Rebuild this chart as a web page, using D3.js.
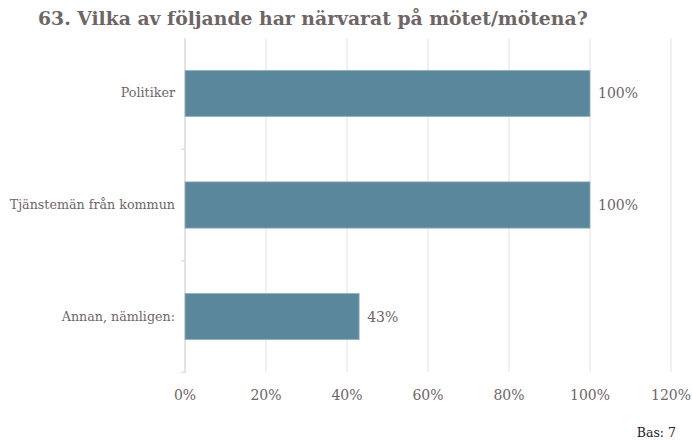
<!DOCTYPE html>
<html>
<head>
<meta charset="utf-8">
<script src="https://cdn.jsdelivr.net/npm/d3@7"></script>
<style>
  body { margin: 0; background: #fff; }
  svg text { font-family: "DejaVu Serif", "Liberation Serif", serif; }
</style>
</head>
<body>
<svg id="chart" width="692" height="443"></svg>
<script>
var categories = ["Politiker", "Tjänstemän från kommun", "Annan, nämligen:"];
var values = [100, 100, 43];
var tick_values = [0, 20, 40, 60, 80, 100, 120];

var svg = d3.select("#chart");
var text_color = "#6e6567";
var bar_color = "#5b879d";
var grid_color = "#e2e2e2";

var margin = { left: 185, right: 21, top: 38, bottom: 71 };
var w = 692, h = 443;

var x = d3.scaleLinear().domain([0, 120]).range([margin.left, w - margin.right]);
var y = d3.scaleBand().domain(categories).range([margin.top, h - margin.bottom]).paddingInner(0.585).paddingOuter(0.29);

// Title
svg.append("text")
   .attr("x", 38)
   .attr("y", 25)
   .text("63. Vilka av följande har närvarat på mötet/mötena?")
   .style("font-size", "18.8px")
   .style("font-weight", "bold")
   .style("fill", text_color);

// Gridlines
svg.selectAll(".grid")
   .data(tick_values)
   .enter()
   .append("line")
   .attr("class", "grid")
   .attr("x1", function(d) { return x(d); })
   .attr("x2", function(d) { return x(d); })
   .attr("y1", margin.top)
   .attr("y2", h - margin.bottom)
   .style("stroke", grid_color)
   .style("stroke-width", 1);

// Left axis line and category separators
svg.append("line")
   .attr("x1", x(0)).attr("x2", x(0))
   .attr("y1", margin.top).attr("y2", h - margin.bottom + 1)
   .style("stroke", "#d6d6d6");

var band_edges = categories.map(function(c) { return y(c) + y.bandwidth() + y.step() * y.paddingInner() / 2; });
svg.selectAll(".sep")
   .data(band_edges)
   .enter()
   .append("line")
   .attr("class", "sep")
   .attr("x1", x(0) - 4).attr("x2", x(0))
   .attr("y1", function(d) { return d; })
   .attr("y2", function(d) { return d; })
   .style("stroke", "#d6d6d6");

// Bars
svg.selectAll(".bar")
   .data(values)
   .enter()
   .append("rect")
   .attr("class", "bar")
   .attr("x", x(0))
   .attr("y", function(d, i) { return y(categories[i]); })
   .attr("width", function(d) { return x(d) - x(0); })
   .attr("height", y.bandwidth())
   .style("fill", bar_color)
   .style("stroke", "#9bb5c2")
   .style("stroke-width", 0.8);

// Value labels
svg.selectAll(".val")
   .data(values)
   .enter()
   .append("text")
   .attr("class", "val")
   .attr("x", function(d) { return x(d) + 8; })
   .attr("y", function(d, i) { return y(categories[i]) + y.bandwidth() / 2 + 5; })
   .text(function(d) { return d + "%"; })
   .style("font-size", "14px")
   .style("fill", text_color);

// Category labels
svg.selectAll(".cat")
   .data(categories)
   .enter()
   .append("text")
   .attr("class", "cat")
   .attr("x", x(0) - 10)
   .attr("y", function(d) { return y(d) + y.bandwidth() / 2 + 4; })
   .attr("text-anchor", "end")
   .text(function(d) { return d; })
   .style("font-size", "12.7px")
   .style("fill", text_color);

// Tick labels
svg.selectAll(".tick_label")
   .data(tick_values)
   .enter()
   .append("text")
   .attr("class", "tick_label")
   .attr("x", function(d) { return x(d); })
   .attr("y", 400)
   .attr("text-anchor", "middle")
   .text(function(d) { return d + "%"; })
   .style("font-size", "14px")
   .style("fill", text_color);

// Base note
svg.append("text")
   .attr("x", 676)
   .attr("y", 437)
   .attr("text-anchor", "end")
   .text("Bas: 7")
   .style("font-size", "12.5px")
   .style("fill", "#222");
</script>
</body>
</html>
